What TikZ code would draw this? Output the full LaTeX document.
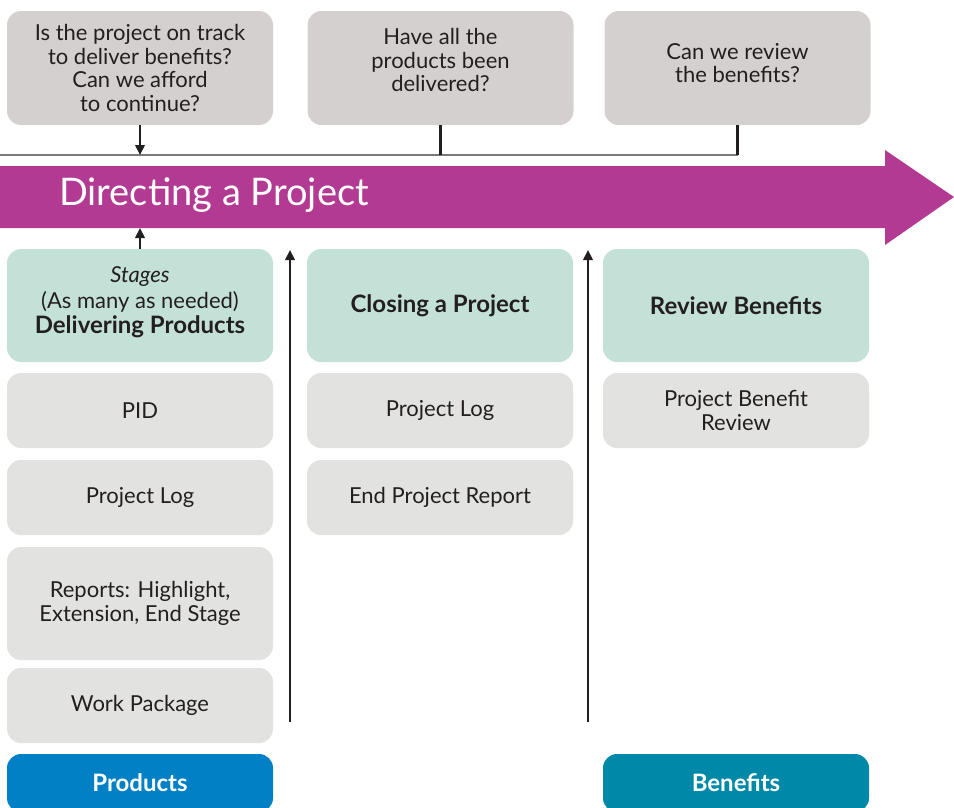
\documentclass[tikz,border=0pt]{standalone}
\usepackage{fontspec}
\setmainfont{Lato}
\usepackage{xcolor}
\usetikzlibrary{arrows.meta}

\definecolor{qgray}{HTML}{D4D0CF}
\definecolor{boxgray}{HTML}{E2E2E1}
\definecolor{mint}{HTML}{C4E1D8}
\definecolor{dirpurple}{HTML}{B33A93}
\definecolor{prodblue}{HTML}{0180C6}
\definecolor{benteal}{HTML}{0088A8}
\definecolor{railgray}{HTML}{7A7A7A}
\definecolor{ink}{HTML}{231F20}

\newcommand{\hdtext}[1]{{\fontsize{24}{23.5}\selectfont\bfseries #1}}

\tikzset{
  rbox/.style={rounded corners=14pt, minimum width=266pt, inner sep=0pt,
    align=center, text=ink, font=\fontsize{22}{23.5}\selectfont},
  qbox/.style={rbox, fill=qgray, minimum height=114pt},
  stagebox/.style={rbox, fill=mint, minimum height=113pt},
  docbox/.style={rbox, fill=boxgray, minimum height=75pt},
  tallbox/.style={rbox, fill=boxgray, minimum height=113pt},
  footbox/.style={rbox, minimum height=58pt, text=white,
    font=\fontsize{24}{24}\selectfont\bfseries},
  link/.style={line width=2.2pt, draw=ink},
  up/.style={link, -{Triangle[length=10pt,width=9.5pt]}},
}

\begin{document}
\begin{tikzpicture}[x=1pt,y=-1pt]
    \useasboundingbox (0,0) rectangle (954,807);
    \clip (0,0) rectangle (954,807);

    % questions
    \node[qbox] (q1) at (140,68) {Is the project on track\\to deliver benefits?\\Can we afford\\to continue?};
    \node[qbox] (q2) at (440.5,68) {Have all the\\products been\\delivered?\\[-7.5pt]\mbox{}};
    \node[qbox] (q3) at (737.5,68) {Can we review\\the benefits?\\[-13pt]\mbox{}};

    % directing arrow
    \fill[dirpurple] (0,166) -- (885,166) -- (885,150) -- (954,197)
        -- (885,245) -- (885,228) -- (0,228) -- cycle;
    \node[anchor=base west, text=white, inner sep=0pt,
        font=\fontsize{38}{40}\selectfont] (dir) at (59,205) {Directing a Project};
    \coordinate (rail) at (0,155);
    \coordinate (dirbase) at (0,228);

    % columns
    \node[stagebox] (stage) at (140,305.5) {{\itshape Stages}\\[2pt](As many as needed)\\[2pt]\hdtext{Delivering Products}\\[-13pt]\mbox{}};
    \node[stagebox] (close) at (440,305.5) {\hdtext{Closing a Project}};
    \node[stagebox] (review) at (736,305.5) {\hdtext{Review Benefits}};

    \node[docbox] (pid) at (140,410.5) {PID};
    \node[docbox] (log1) at (140,497.5) {Project Log};
    \node[tallbox] (reports) at (140,603.5) {Reports: Highlight,\\Extension, End Stage};
    \node[docbox] (wp) at (140,705.5) {Work Package};

    \node[docbox] (log2) at (440,410.5) {Project Log};
    \node[docbox] (epr) at (440,497.5) {End Project Report};

    \node[docbox] (pbr) at (736,410.5) {Project Benefit\\Review};

    \node[footbox, fill=prodblue] (prod) at (140,783) {Products};
    \node[footbox, fill=benteal] (ben) at (736,783) {Benefits};

    % connectors
    \draw[link, draw=railgray, line width=1.8pt] (rail) -- (rail -| q3.south);
    \draw[link] (q3.south) -- (q3.south |- rail);
    \draw[link] (q2.south) -- (q2.south |- rail);
    \draw[up] (q1.south) -- (q1.south |- rail);
    \draw[up] (stage.north) -- (stage.north |- dirbase);

    \coordinate (lane1) at (290,722);
    \coordinate (lane1top) at (290,250);
    \coordinate (lane2) at (588,722);
    \coordinate (lane2top) at (588,250);
    \draw[up] (lane1) -- (lane1top);
    \draw[up] (lane2) -- (lane2top);
\end{tikzpicture}
\end{document}
